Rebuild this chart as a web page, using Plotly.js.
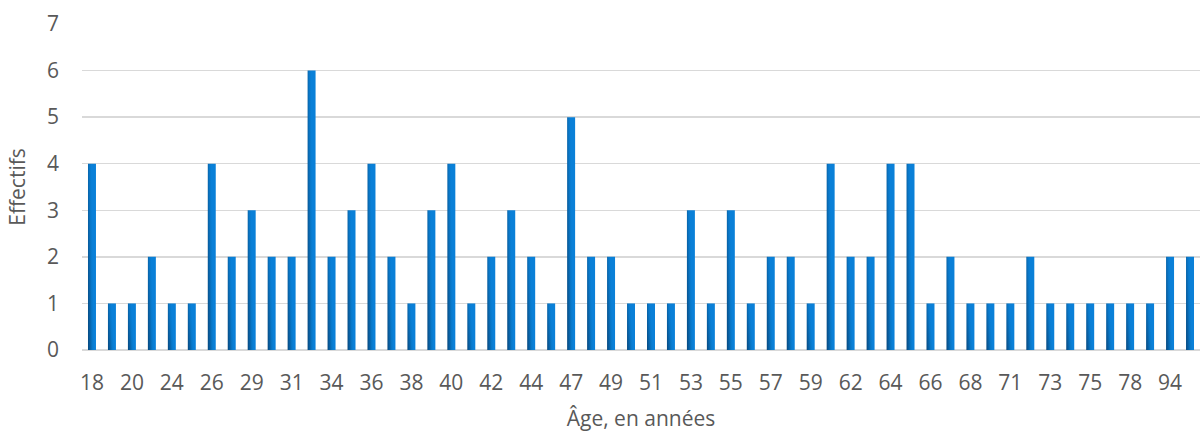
<!DOCTYPE html>
<html>
<head>
<meta charset="utf-8">
<script src="https://cdn.plot.ly/plotly-3.0.1.min.js"></script>
<style>html,body{margin:0;padding:0;background:#fff;}#chart{width:1200px;height:432px;}</style>
</head>
<body>
<div id="chart"></div>
<script>
const ages = ["18","19","20","22","24","25","26","27","29","30","31","33","34","35","36","37","38","39","40","41","42","43","44","46","47","48","49","50","51","52","53","54","55","56","57","58","59","61","62","63","64","65","66","67","68","70","71","72","73","74","75","77","78","80","94","96"];
const effectifs = [4,1,1,2,1,1,4,2,3,2,2,6,2,3,4,2,1,3,4,1,2,3,2,1,5,2,2,1,1,1,3,1,3,1,2,2,1,4,2,2,4,4,1,2,1,1,1,2,1,1,1,1,1,1,2,2];
const tickLabels = ages.filter((a, i) => i % 2 === 0);

const fontFam = '"Open Sans", Lato, sans-serif';
const grey = '#595959';
const fs = 21;

const trace = {
  type: 'bar',
  x: ages,
  y: effectifs,
  marker: {color: '#0a80d8', line: {width: 0}},
  hoverinfo: 'x+y'
};

const layout = {
  width: 1200, height: 432,
  margin: {l: 82, r: 0, t: 24, b: 82},
  paper_bgcolor: '#fff', plot_bgcolor: '#fff',
  bargap: 0.6,
  showlegend: false,
  font: {family: fontFam, color: grey, size: fs},
  xaxis: {
    type: 'category',
    categoryorder: 'array', categoryarray: ages,
    tickmode: 'array', tickvals: tickLabels, ticktext: tickLabels,
    showgrid: false, zeroline: false,
    showline: false, ticks: '',
    ticklabelstandoff: 18,
    tickfont: {size: fs, color: grey, family: fontFam},
    title: {text: 'Âge, en années', font: {size: fs, color: grey, family: fontFam}, standoff: 26}
  },
  yaxis: {
    range: [0, 7], dtick: 1,
    showgrid: true, gridcolor: '#d9d9d9', gridwidth: 1.3,
    zeroline: true, zerolinecolor: '#d9d9d9', zerolinewidth: 1.3,
    showline: false, ticks: '',
    ticklabelstandoff: 22,
    tickfont: {size: fs, color: grey, family: fontFam},
    title: {text: 'Effectifs', font: {size: fs, color: grey, family: fontFam}, standoff: 15}
  }
};

Plotly.newPlot('chart', [trace], layout, {displayModeBar: false, staticPlot: true}).then(gd => {
  const svgNS = 'http://www.w3.org/2000/svg';
  const svg = gd.querySelector('svg.main-svg');
  let defs = svg.querySelector('defs');
  if (!defs) { defs = document.createElementNS(svgNS, 'defs'); svg.insertBefore(defs, svg.firstChild); }
  const g = document.createElementNS(svgNS, 'linearGradient');
  g.setAttribute('id', 'barGrad');
  g.setAttribute('x1', '0.7'); g.setAttribute('y1', '0.76');
  g.setAttribute('x2', '0'); g.setAttribute('y2', '1');
  [[0, '#0a80d8'], [0.3, '#0978c9'], [1, '#06477d']].forEach(([o, c]) => {
    const s = document.createElementNS(svgNS, 'stop');
    s.setAttribute('offset', o); s.setAttribute('stop-color', c);
    g.appendChild(s);
  });
  defs.appendChild(g);
  gd.querySelectorAll('.barlayer .point path').forEach(p => { p.style.fill = 'url(#barGrad)'; });
});
</script>
</body>
</html>
